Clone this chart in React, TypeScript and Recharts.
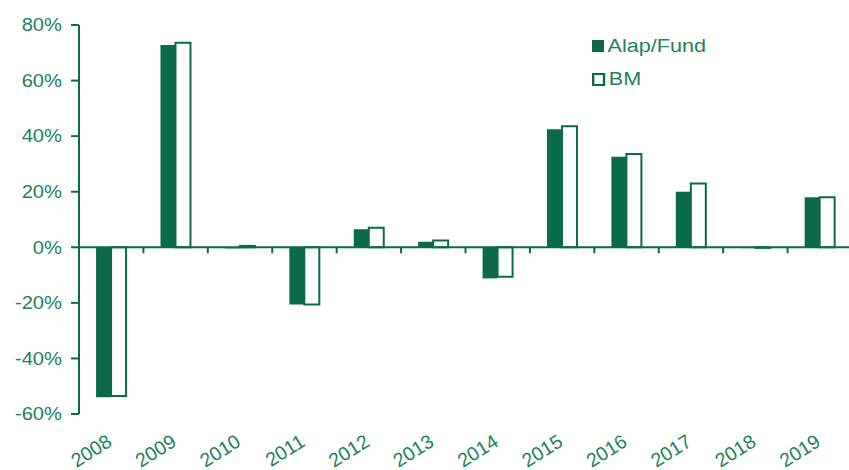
import { Bar, BarChart, Legend, ReferenceLine, XAxis, YAxis } from "recharts";

const GREEN = "#0b6b48";
const TEXT = "#22805e";
const FONT = "Liberation Sans, Arial, sans-serif";

const years = ["2008", "2009", "2010", "2011", "2012", "2013", "2014", "2015", "2016", "2017", "2018", "2019"];
const fund = [-54, 72.8, -0.4, -20.6, 6.5, 2.0, -11.2, 42.5, 32.6, 20.0, -0.3, 18.0];
const bm = [-53.5, 73.6, 0.5, -20.6, 7.0, 2.4, -10.6, 43.6, 33.6, 23.0, -0.2, 18.0];
const yTicks = [-60, -40, -20, 0, 20, 40, 60, 80];

const data = years.map((year, i) => ({ year, fund: fund[i], bm: bm[i] }));

const YearTick = (props: any) => {
  const { x, y, payload } = props;
  const ax = x + 2;
  const ay = y + 23;
  return (
    <g transform={`translate(${ax}, ${ay}) rotate(-32)`}>
      <text x={0} y={0} textAnchor="end" fill={TEXT} fontSize={19.5} fontFamily={FONT}>
        {payload.value}
      </text>
    </g>
  );
};

const PctTick = (props: any) => {
  const { x, y, payload } = props;
  return (
    <g transform={`translate(${x - 7}, ${y})`}>
      <text x={0} y={0} dy="0.35em" textAnchor="end" fill={TEXT} fontSize={18} fontFamily={FONT} transform="scale(1.12, 1)">
        {`${payload.value}%`}
      </text>
    </g>
  );
};

// zero line with tick marks at the category boundaries
const ZeroLine = (props: any) => {
  const { x1, y1, x2, y2 } = props;
  const step = (x2 - x1) / years.length;
  return (
    <g>
      <line x1={x1} y1={y1} x2={x2} y2={y2} stroke={GREEN} strokeWidth={2} />
      {years.map((_y, i) =>
        i === 0 ? null : (
          <line
            key={i}
            x1={x1 + step * i}
            x2={x1 + step * i}
            y1={y1}
            y2={y1 + 6}
            stroke={GREEN}
            strokeWidth={2}
          />
        )
      )}
    </g>
  );
};

const renderLegend = () => (
  <div
    style={{
      fontFamily: FONT,
      fontSize: 18,
      color: TEXT,
      transform: "scaleX(1.2)",
      transformOrigin: "left center",
      whiteSpace: "nowrap",
    }}
  >
    <div style={{ display: "flex", alignItems: "center", height: 22 }}>
      <span style={{ width: 10, height: 12, background: GREEN, display: "inline-block", marginRight: 3 }} />
      Alap/Fund
    </div>
    <div style={{ display: "flex", alignItems: "center", height: 22, marginTop: 11 }}>
      <span
        style={{
          width: 7,
          height: 9,
          border: `2px solid ${GREEN}`,
          background: "#fff",
          display: "inline-block",
          marginRight: 3,
        }}
      />
      BM
    </div>
  </div>
);

export default function App() {
  return (
    <div
      style={{ position: "absolute", left: 0, top: 0, width: 849, height: 470, overflow: "hidden", background: "#fff" }}
    >
      <BarChart
        width={852}
        height={470}
        data={data}
        margin={{ top: 25, right: 0, bottom: 6, left: 9 }}
        barCategoryGap="26.5%"
        barGap={0}
      >
        <XAxis
          dataKey="year"
          axisLine={false}
          tickLine={false}
          tick={<YearTick />}
          height={50}
          interval={0}
        />
        <YAxis
          domain={[-60, 80]}
          ticks={yTicks}
          axisLine={{ stroke: GREEN, strokeWidth: 2 }}
          tickLine={{ stroke: GREEN, strokeWidth: 2 }}
          tickSize={8}
          tick={<PctTick />}
          width={70}
          interval={0}
        />
        <Legend
          layout="horizontal"
          verticalAlign="middle"
          align="center"
          content={renderLegend}
          wrapperStyle={{ position: "absolute", top: 35, left: 592, width: 160 }}
        />
        <Bar dataKey="fund" name="Alap/Fund" fill={GREEN} isAnimationActive={false} />
        <Bar dataKey="bm" name="BM" fill="#fff" stroke={GREEN} strokeWidth={2} isAnimationActive={false} />
        <ReferenceLine y={0} shape={<ZeroLine />} />
      </BarChart>
    </div>
  );
}
